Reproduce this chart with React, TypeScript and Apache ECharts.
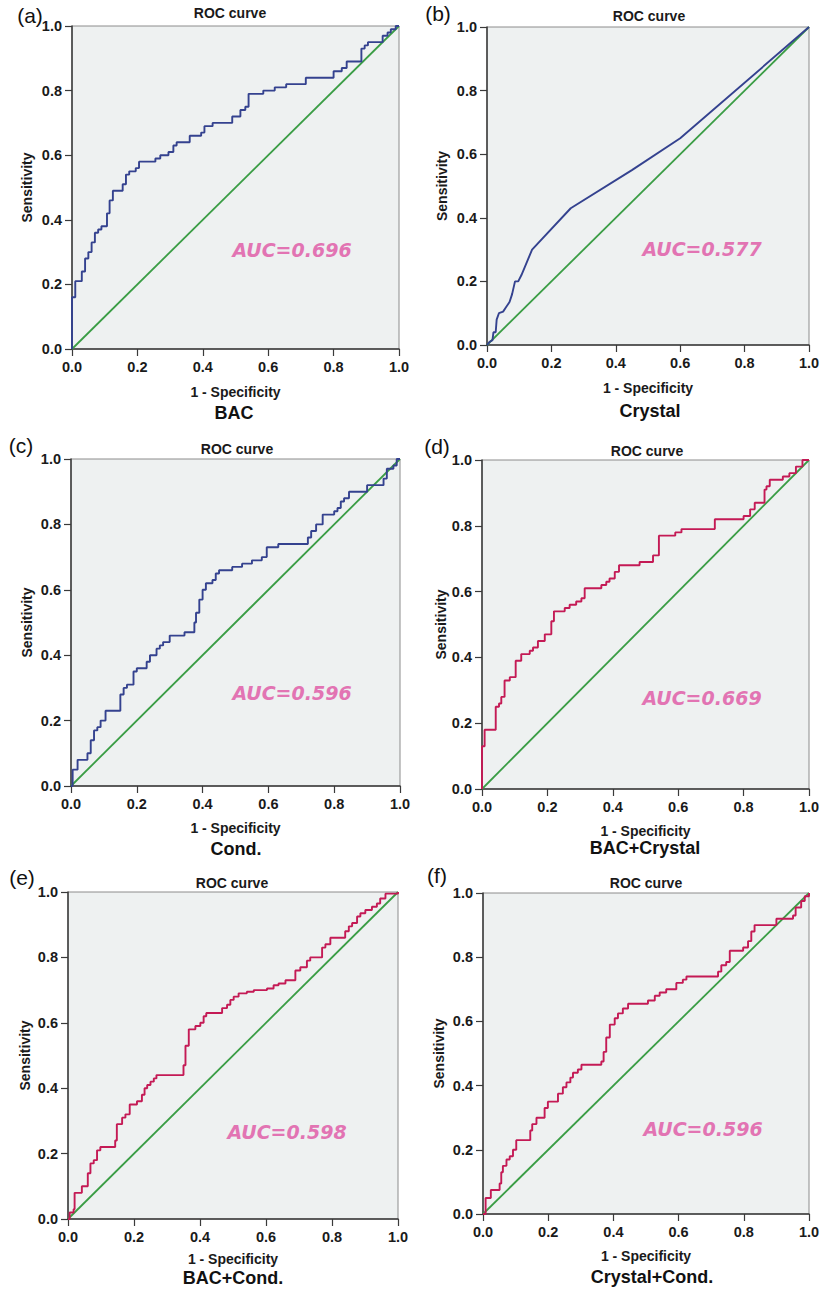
import React, { useEffect, useRef } from "react";
import * as echarts from "echarts";

// ---- data ----
const panelLetters = ["(a)", "(b)", "(c)", "(d)", "(e)", "(f)"];
const panelNames = ["BAC", "Crystal", "Cond.", "BAC+Crystal", "BAC+Cond.", "Crystal+Cond."];
const aucValues = ["0.696", "0.577", "0.596", "0.669", "0.598", "0.596"];
const diagonal = [[0, 0], [1, 1]];

// step ROC curves: each point = x where the curve rises, and the sensitivity reached
const rocBAC = [
  [0, 0], [0, 0.16], [0.01, 0.21], [0.03, 0.24], [0.04, 0.28], [0.05, 0.30], [0.06, 0.33],
  [0.07, 0.36], [0.08, 0.37], [0.09, 0.38], [0.107, 0.42], [0.115, 0.46], [0.125, 0.49],
  [0.155, 0.51], [0.165, 0.54], [0.175, 0.55], [0.195, 0.56], [0.205, 0.58], [0.255, 0.59],
  [0.27, 0.60], [0.295, 0.61], [0.31, 0.63], [0.32, 0.64], [0.36, 0.66], [0.395, 0.67],
  [0.405, 0.69], [0.43, 0.70], [0.49, 0.72], [0.515, 0.74], [0.53, 0.75], [0.54, 0.79],
  [0.585, 0.80], [0.62, 0.81], [0.655, 0.82], [0.715, 0.84], [0.80, 0.86], [0.825, 0.87],
  [0.84, 0.89], [0.885, 0.93], [0.895, 0.94], [0.905, 0.95], [0.95, 0.97], [0.965, 0.98],
  [0.975, 0.99], [0.99, 1.0], [1, 1],
];
// Crystal: piecewise linear curve
const rocCrystal = [
  [0, 0], [0.008, 0.01], [0.017, 0.015], [0.02, 0.04], [0.027, 0.04], [0.03, 0.08],
  [0.037, 0.10], [0.05, 0.105], [0.06, 0.12], [0.07, 0.135], [0.078, 0.16], [0.087, 0.20],
  [0.097, 0.20], [0.107, 0.22], [0.14, 0.30], [0.26, 0.43], [0.45, 0.55], [0.6, 0.65], [1, 1],
];
const rocCond = [
  [0, 0], [0.005, 0.05], [0.02, 0.08], [0.05, 0.10], [0.06, 0.14], [0.07, 0.17], [0.08, 0.18],
  [0.09, 0.20], [0.105, 0.23], [0.15, 0.28], [0.16, 0.30], [0.17, 0.31], [0.19, 0.35],
  [0.20, 0.36], [0.23, 0.38], [0.24, 0.40], [0.26, 0.42], [0.27, 0.43], [0.28, 0.44],
  [0.30, 0.46], [0.345, 0.47], [0.37, 0.47], [0.375, 0.50], [0.38, 0.53], [0.39, 0.57],
  [0.40, 0.60], [0.41, 0.62], [0.43, 0.63], [0.44, 0.65], [0.45, 0.66], [0.49, 0.67],
  [0.52, 0.68], [0.55, 0.69], [0.58, 0.70], [0.595, 0.73], [0.63, 0.74], [0.72, 0.76],
  [0.73, 0.78], [0.745, 0.80], [0.765, 0.83], [0.80, 0.84], [0.81, 0.85], [0.82, 0.87],
  [0.83, 0.88], [0.845, 0.90], [0.90, 0.92], [0.95, 0.94], [0.96, 0.97], [0.98, 0.98],
  [0.99, 1.0], [1, 1],
];
const rocBACCrystal = [
  [0, 0], [0, 0.13], [0.008, 0.18], [0.042, 0.25], [0.052, 0.26], [0.059, 0.28], [0.069, 0.33],
  [0.085, 0.34], [0.103, 0.39], [0.12, 0.41], [0.146, 0.42], [0.156, 0.43], [0.171, 0.45],
  [0.192, 0.47], [0.212, 0.51], [0.22, 0.54], [0.253, 0.55], [0.268, 0.56], [0.288, 0.57],
  [0.304, 0.58], [0.314, 0.61], [0.365, 0.62], [0.38, 0.63], [0.39, 0.64], [0.406, 0.66],
  [0.419, 0.68], [0.482, 0.69], [0.523, 0.71], [0.541, 0.77], [0.591, 0.78], [0.61, 0.79],
  [0.712, 0.82], [0.80, 0.83], [0.82, 0.85], [0.834, 0.87], [0.864, 0.91], [0.87, 0.92],
  [0.88, 0.94], [0.92, 0.95], [0.94, 0.96], [0.96, 0.98], [0.98, 1.0], [1, 1],
];
const rocBACCond = [
  [0, 0], [0.005, 0.02], [0.017, 0.03], [0.02, 0.08], [0.042, 0.10], [0.06, 0.14], [0.068, 0.17],
  [0.078, 0.18], [0.088, 0.21], [0.098, 0.22], [0.143, 0.24], [0.148, 0.29], [0.164, 0.31],
  [0.174, 0.32], [0.187, 0.35], [0.209, 0.36], [0.224, 0.38], [0.232, 0.40], [0.24, 0.41],
  [0.25, 0.42], [0.26, 0.43], [0.268, 0.44], [0.35, 0.47], [0.356, 0.53], [0.366, 0.58],
  [0.386, 0.59], [0.401, 0.60], [0.411, 0.62], [0.419, 0.63], [0.467, 0.645], [0.482, 0.655],
  [0.492, 0.67], [0.502, 0.68], [0.517, 0.69], [0.542, 0.695], [0.563, 0.70], [0.603, 0.705],
  [0.623, 0.715], [0.638, 0.72], [0.659, 0.73], [0.689, 0.76], [0.704, 0.77], [0.724, 0.79],
  [0.734, 0.80], [0.77, 0.83], [0.78, 0.84], [0.795, 0.86], [0.84, 0.88], [0.851, 0.895],
  [0.861, 0.905], [0.876, 0.925], [0.886, 0.935], [0.901, 0.945], [0.921, 0.955],
  [0.936, 0.965], [0.946, 0.98], [0.962, 0.995], [1, 1],
];
const rocCrystalCond = [
  [0, 0], [0.008, 0.05], [0.024, 0.075], [0.051, 0.095], [0.056, 0.13], [0.061, 0.15],
  [0.072, 0.17], [0.082, 0.18], [0.092, 0.20], [0.102, 0.23], [0.145, 0.26], [0.151, 0.28],
  [0.164, 0.30], [0.189, 0.33], [0.199, 0.35], [0.23, 0.375], [0.245, 0.395], [0.256, 0.41],
  [0.268, 0.425], [0.276, 0.44], [0.291, 0.45], [0.302, 0.465], [0.363, 0.475], [0.37, 0.505],
  [0.378, 0.55], [0.389, 0.59], [0.404, 0.61], [0.414, 0.625], [0.429, 0.64], [0.445, 0.655],
  [0.506, 0.665], [0.527, 0.68], [0.542, 0.69], [0.562, 0.70], [0.593, 0.72], [0.613, 0.73],
  [0.624, 0.74], [0.721, 0.755], [0.731, 0.775], [0.746, 0.785], [0.757, 0.82], [0.798, 0.83],
  [0.813, 0.85], [0.823, 0.88], [0.833, 0.90], [0.90, 0.92], [0.951, 0.93], [0.959, 0.955],
  [0.976, 0.975], [0.987, 0.99], [1, 1],
];

const curves = [rocBAC, rocCrystal, rocCond, rocBACCrystal, rocBACCond, rocCrystalCond];
const isStep = [true, false, true, true, true, true];

// ---- layout / style ----
const BLUE = "#34428f";
const RED = "#c41a55";
const curveColors = [BLUE, BLUE, BLUE, RED, RED, RED];
const GREEN = "#3a9d45";
const PINK = "#e274b3";

const grids = [
  { left: 72, top: 26, width: 327, height: 323 },
  { left: 487, top: 27, width: 322, height: 318 },
  { left: 71, top: 459, width: 329, height: 327 },
  { left: 482, top: 460, width: 327, height: 329 },
  { left: 68, top: 892, width: 330, height: 327 },
  { left: 483, top: 893, width: 326, height: 321 },
];
const xNameGap = [36, 36, 35, 35, 33, 35];
const yNameGap = [38, 38, 37, 34, 36, 37];
const letterPos = [[30, 15], [438, 13], [21, 445], [437, 446], [22, 877], [437, 875]];
const titlePos = [[230, 13], [649, 16], [237, 449], [647, 451], [232, 883], [646, 883]];
const namePos = [[234, 413], [650, 411], [236, 849], [645, 848], [233, 1278], [652, 1277]];
const aucPos = [[292, 250], [702, 249], [292, 693], [702, 698], [287, 1132], [703, 1129]];

const FONT = "'Liberation Sans', Arial, sans-serif";

function expandSteps(pts: number[][]) {
  const out: number[][] = [pts[0]];
  for (let i = 1; i < pts.length; i++) {
    out.push([pts[i][0], pts[i - 1][1]]);
    out.push(pts[i]);
  }
  return out;
}

function buildOption() {
  const grid: any[] = [];
  const xAxis: any[] = [];
  const yAxis: any[] = [];
  const series: any[] = [];
  const graphic: any[] = [];

  grids.forEach((g, i) => {
    grid.push({
      ...g,
      show: true,
      backgroundColor: "#eef1f1",
      borderColor: "#8c8c8c",
      borderWidth: 1,
      containLabel: false,
    });
    const labelStyle = {
      margin: 10,
      fontFamily: FONT,
      fontWeight: "bold",
      fontSize: 14.5,
      color: "#1a1a1a",
      formatter: (v: number) => v.toFixed(1),
    };
    const axisCommon = {
      gridIndex: i,
      type: "value",
      min: 0,
      max: 1,
      interval: 0.2,
      splitLine: { show: false },
      axisLine: { show: true, onZero: false, lineStyle: { color: "#3a3a3a", width: 1.5 } },
      axisTick: { show: true, length: 7, lineStyle: { color: "#3a3a3a", width: 1.2 } },
      nameLocation: "middle",
      nameTextStyle: { fontFamily: FONT, fontWeight: "bold", fontSize: 14, color: "#1a1a1a" },
      axisLabel: labelStyle,
    };
    xAxis.push({ ...axisCommon, name: "1 - Specificity", nameGap: xNameGap[i] });
    yAxis.push({ ...axisCommon, name: "Sensitivity", nameGap: yNameGap[i] });

    series.push({
      type: "line",
      xAxisIndex: i,
      yAxisIndex: i,
      data: diagonal,
      showSymbol: false,
      silent: true,
      lineStyle: { color: GREEN, width: 1.8 },
      z: 2,
    });
    series.push({
      type: "line",
      xAxisIndex: i,
      yAxisIndex: i,
      data: isStep[i] ? expandSteps(curves[i]) : curves[i],
      showSymbol: false,
      silent: true,
      lineStyle: { color: curveColors[i], width: 1.9 },
      z: 3,
    });

    graphic.push({
      type: "text",
      x: letterPos[i][0],
      y: letterPos[i][1],
      style: {
        text: panelLetters[i],
        font: `21px ${FONT}`,
        fill: "#111",
        align: "center",
        verticalAlign: "middle",
      },
    });
    graphic.push({
      type: "text",
      x: titlePos[i][0],
      y: titlePos[i][1],
      style: {
        text: "ROC curve",
        font: `bold 14px ${FONT}`,
        fill: "#1a1a1a",
        align: "center",
        verticalAlign: "middle",
      },
    });
    graphic.push({
      type: "text",
      x: namePos[i][0],
      y: namePos[i][1],
      style: {
        text: panelNames[i],
        font: `bold 18px ${FONT}`,
        fill: "#111",
        align: "center",
        verticalAlign: "middle",
      },
    });
    graphic.push({
      type: "text",
      x: aucPos[i][0],
      y: aucPos[i][1],
      z: 10,
      style: {
        text: `AUC=${aucValues[i]}`,
        font: `italic bold 19px 'DejaVu Sans', Verdana, sans-serif`,
        fill: PINK,
        align: "center",
        verticalAlign: "middle",
      },
    });
  });

  return {
    animation: false,
    backgroundColor: "#ffffff",
    grid,
    xAxis,
    yAxis,
    series,
    graphic,
  };
}

export default function App() {
  const ref = useRef<HTMLDivElement>(null);
  useEffect(() => {
    if (!ref.current) return;
    const chart = echarts.init(ref.current, undefined, { renderer: "svg" });
    chart.setOption(buildOption() as any);
    return () => chart.dispose();
  }, []);
  return (
    <div
      ref={ref}
      style={{ position: "absolute", left: 0, top: 0, width: 823, height: 1289, background: "#fff" }}
    />
  );
}
